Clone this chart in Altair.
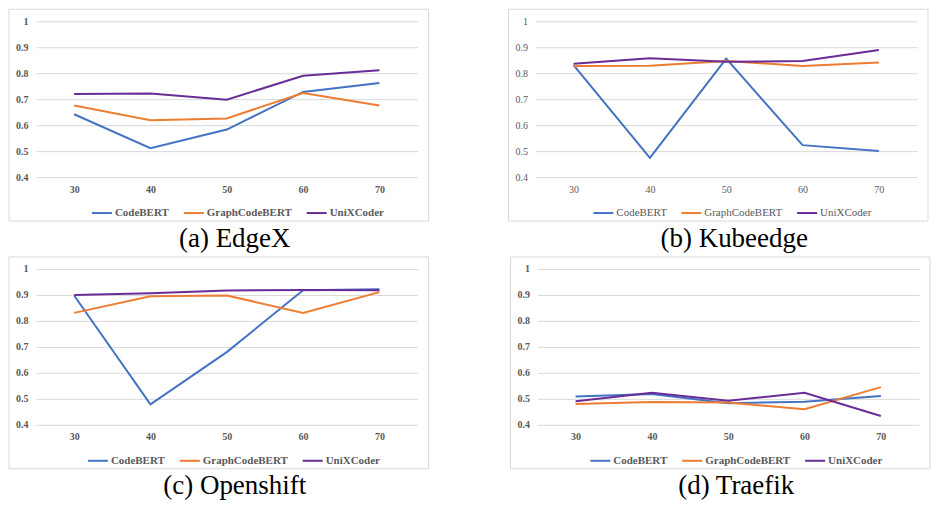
import altair as alt
import pandas as pd

sizes = [30, 40, 50, 60, 70]
models = ["CodeBERT", "GraphCodeBERT", "UniXCoder"]
colors = ["#4472C4", "#ED7D31", "#6A2C96"]

# (a) EdgeX
edgex_codebert = [0.642, 0.511, 0.583, 0.728, 0.762]
edgex_graphcodebert = [0.676, 0.619, 0.626, 0.724, 0.676]
edgex_unixcoder = [0.720, 0.722, 0.698, 0.790, 0.811]

# (b) Kubeedge
kube_codebert = [0.831, 0.474, 0.856, 0.523, 0.500]
kube_graphcodebert = [0.828, 0.829, 0.847, 0.828, 0.841]
kube_unixcoder = [0.836, 0.858, 0.844, 0.847, 0.889]

# (c) Openshift
open_codebert = [0.898, 0.479, 0.680, 0.918, 0.922]
open_graphcodebert = [0.831, 0.895, 0.898, 0.831, 0.911]
open_unixcoder = [0.900, 0.907, 0.917, 0.919, 0.918]

# (d) Traefik
traefik_codebert = [0.509, 0.519, 0.483, 0.489, 0.511]
traefik_graphcodebert = [0.480, 0.488, 0.486, 0.460, 0.545]
traefik_unixcoder = [0.491, 0.523, 0.493, 0.523, 0.434]

captions = ["(a) EdgeX", "(b) Kubeedge", "(c) Openshift", "(d) Traefik"]
y_ticks = [0.4, 0.5, 0.6, 0.7, 0.8, 0.9, 1.0]

W = 382
H = 156
SERIF = "'Liberation Serif', 'Times New Roman', Times, 'DejaVu Serif', serif"
GRID = "#d9d9d9"
LABEL = "#595959"


def make_df(series):
    rows = []
    for m, vals in zip(models, series):
        for s, v in zip(sizes, vals):
            rows.append({"size": s, "model": m, "value": v})
    return pd.DataFrame(rows)


def panel(series, caption, bold, legend_x):
    weight = "bold" if bold else "normal"
    df = make_df(series)
    frame = alt.Chart(pd.DataFrame({"f": [0]})).mark_rect(
        fill="white", fillOpacity=0, stroke=GRID, strokeWidth=1
    ).encode(
        x=alt.value(-27), x2=alt.value(W + 11),
        y=alt.value(-12), y2=alt.value(H + 44),
    )
    lines = alt.Chart(df).mark_line(strokeWidth=2).encode(
        x=alt.X("size:O", scale=alt.Scale(type="point", padding=0.5),
                axis=alt.Axis(title=None, labelAngle=0, domain=False, ticks=False,
                              grid=False, labelFont=SERIF, labelFontSize=10,
                              labelFontWeight=weight, labelColor=LABEL, labelPadding=7)),
        y=alt.Y("value:Q", scale=alt.Scale(domain=[0.4, 1.0], nice=False, zero=False),
                axis=alt.Axis(title=None, values=y_ticks, format="~g", domain=False,
                              ticks=False, grid=True, gridColor=GRID, gridWidth=1,
                              labelFont=SERIF, labelFontSize=10, labelFontWeight=weight,
                              labelColor=LABEL, labelPadding=8)),
        color=alt.Color("model:N", scale=alt.Scale(domain=models, range=colors),
                        legend=alt.Legend(orient="none", legendX=legend_x, legendY=H + 25,
                                          direction="horizontal", title=None,
                                          symbolType="stroke", symbolSize=400,
                                          symbolStrokeWidth=2, labelFont=SERIF,
                                          labelFontSize=11, labelFontWeight=weight,
                                          labelColor=LABEL, labelOffset=2,
                                          columnPadding=10)),
        order=alt.Order("size:O"),
    )
    return alt.layer(frame, lines).properties(
        width=W, height=H,
        title=alt.TitleParams(caption, orient="bottom", font=SERIF, fontSize=27,
                              fontWeight="normal", color="black", anchor="middle",
                              frame="group", dx=8, offset=4),
    )


pa = panel([edgex_codebert, edgex_graphcodebert, edgex_unixcoder], captions[0], True, 55)
pb = panel([kube_codebert, kube_graphcodebert, kube_unixcoder], captions[1], False, 57)
pc = panel([open_codebert, open_graphcodebert, open_unixcoder], captions[2], True, 51)
pd_ = panel([traefik_codebert, traefik_graphcodebert, traefik_unixcoder], captions[3], True, 52)

row1 = alt.hconcat(pa, pb, spacing=78).resolve_scale(color="independent").resolve_legend(color="independent")
row2 = alt.hconcat(pc, pd_, spacing=80).resolve_scale(color="independent").resolve_legend(color="independent")

chart = alt.vconcat(row1, row2, spacing=4).resolve_scale(color="independent").resolve_legend(
    color="independent"
).properties(padding=0).configure_view(strokeWidth=0)

chart.save("out.html", embed_options={"renderer": "svg", "actions": False})
